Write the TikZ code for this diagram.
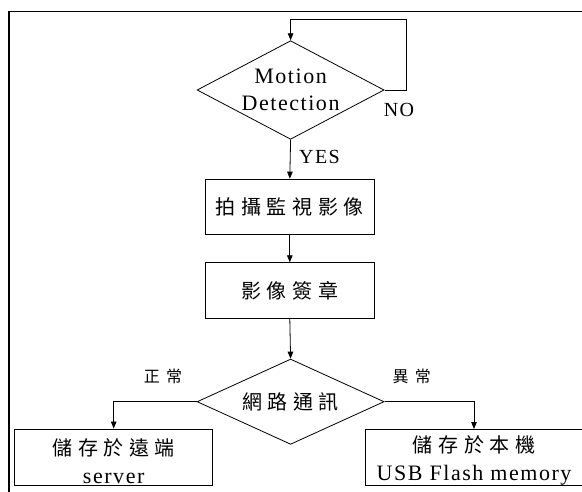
\documentclass[tikz,border=0pt]{standalone}
\usepackage{fontspec}
\setmainfont{Liberation Serif}[LetterSpace=7]
\newfontfamily\cjk{Noto Sans CJK TC}[LetterSpace=28]
\newfontfamily\cjksmall{Noto Sans CJK TC}[LetterSpace=40]
\usetikzlibrary{shapes.geometric,arrows.meta}
\tikzset{
  base/.style={draw, line width=0.8pt},
  dia/.style={base, diamond, inner sep=-2pt, minimum width=187pt, align=center},
  box/.style={base, rectangle, inner sep=0pt, align=center},
  arr/.style={line width=0.8pt, -{Triangle[length=7pt,width=5.5pt]}},
  lat/.style={font=\fontsize{22}{28}\selectfont},
  cjkbig/.style={font=\fontsize{20}{28}\cjk},
  yn/.style={font=\fontsize{20}{22}\selectfont},
  cjklbl/.style={font=\fontsize{16}{18}\cjksmall},
}
\begin{document}
\begin{tikzpicture}[x=1pt,y=-1pt]
\useasboundingbox (0,0) rectangle (582,491);
\clip (0,0) rectangle (582,491);
\fill[white] (0,0) rectangle (582,491);
% frame
\draw[line width=1.3pt] (9,495) -- (9,11.5) -- (590,11.5);
% nodes
\node[dia, shape aspect=1.9, minimum height=98.6pt, font=\fontsize{22}{26.6}\selectfont] (d1) at (290.6,90) {Motion\\Detection};
\node[box, minimum width=169pt, minimum height=55.3pt, cjkbig] (b1) at (289.8,206.7) {拍攝監視影像};
\node[box, minimum width=169pt, minimum height=55.6pt, cjkbig] (b2) at (289.8,290.5) {影像簽章};
\node[dia, shape aspect=2.19, minimum height=85.3pt, cjkbig] (d2) at (290.6,401.7) {網路通訊};
\node[box, minimum width=198pt, minimum height=56.7pt, lat] (s1) at (113.7,457.3) {\rule{0pt}{24pt}{\fontsize{20}{28}\cjk 儲存於遠端}\\server};
\node[box, minimum width=240pt, minimum height=56.7pt, lat] (s2) at (485.6,457.3) {\rule{0pt}{24pt}{\fontsize{20}{28}\cjk 儲存於本機}\hspace*{23pt}\\USB Flash memory\hspace*{23pt}};
% labels
\node[yn] (no) at (399,110) {NO};
\node[yn] (yes) at (319.5,157) {YES};
\node[cjklbl] (ok) at (163,376) {正常};
\node[cjklbl] (bad) at (411.7,376) {異常};
% connectors
\coordinate (lpR) at (406.5,19);
\draw[arr] (d1.east) -| (lpR) -| (d1.north);
\draw[arr] (d1.south) -- (b1.north);
\draw[arr] (b1.south) -- (b2.north);
\draw[arr] (b2.south) -- (d2.north);
\draw[arr] (d2.west) -| (s1.north);
\coordinate (rb) at (474,429);
\draw[arr] (d2.east) -| (rb);
\end{tikzpicture}
\end{document}
